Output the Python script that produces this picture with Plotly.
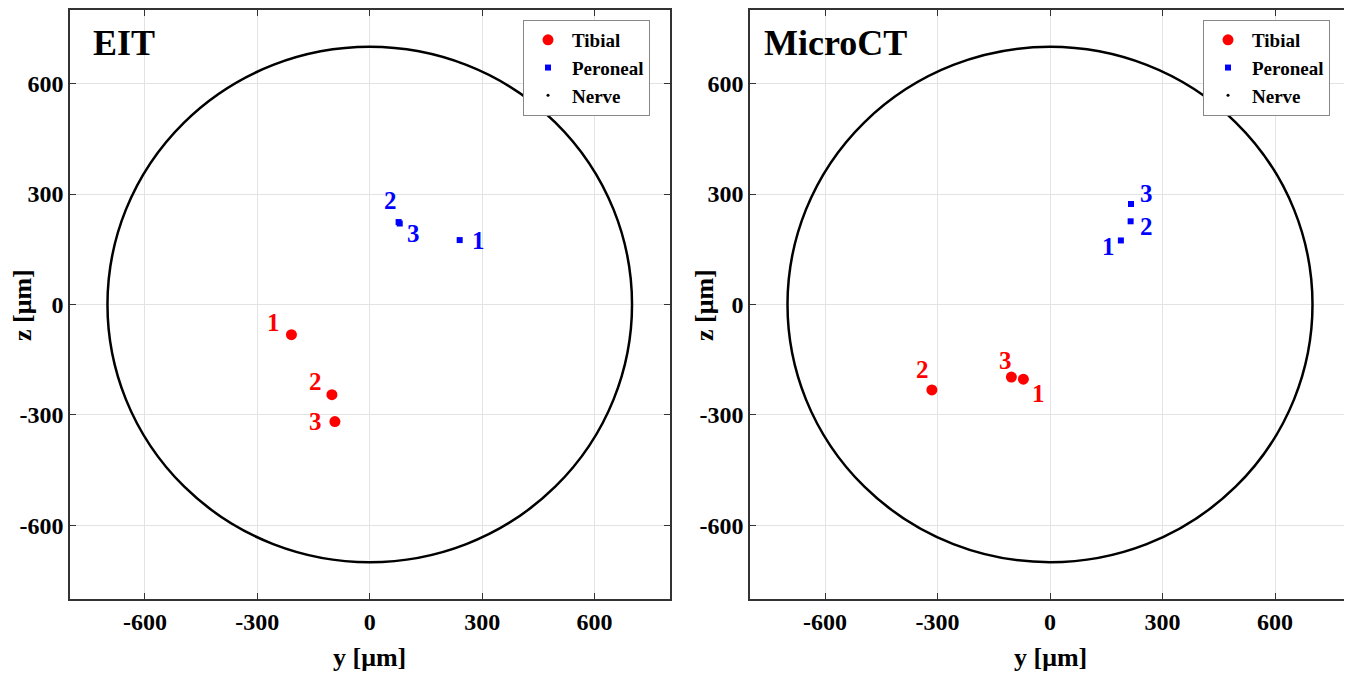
import plotly.graph_objects as go

# ---------------- data ----------------
NERVE_RADIUS = 700
AXIS_RANGE = [-800, 800]
TICK_VALUES = [-600, -300, 0, 300, 600]
TICK_LABELS = ["-600", "-300", "0", "300", "600"]
POINT_LABELS = ["1", "2", "3"]
PANEL_TITLES = ["EIT", "MicroCT"]
SERIES_NAMES = ["Tibial", "Peroneal", "Nerve"]
X_TITLE = "y [μm]"
Y_TITLE = "z [μm]"

EIT_TIBIAL_Y = [-209, -101, -93]
EIT_TIBIAL_Z = [-82, -245, -318]
EIT_PERONEAL_Y = [240, 77, 80]
EIT_PERONEAL_Z = [175, 224, 220]

CT_TIBIAL_Y = [-71, -315, -103]
CT_TIBIAL_Z = [-203, -232, -197]
CT_PERONEAL_Y = [189, 215, 216]
CT_PERONEAL_Z = [174, 226, 273]

# ---------------- styles ----------------
FONT = "Liberation Serif, Times New Roman, serif"
RED = "#ff0000"
BLUE = "#0000ff"
# label offsets in pixels (dx right, dy down)
EIT_TIB_OFF = [(-18, -12), (-16, -13), (-19, 0)]
EIT_PER_OFF = [(19, 0), (-8, -22), (14, 10)]
CT_TIB_OFF = [(15, 14), (-9, -20), (-6, -17)]
CT_PER_OFF = [(-12, 6), (16, 5), (15, -10)]

PAGE_MARGIN = 8  # default body margin of the html page
W, H = 1352 - PAGE_MARGIN, 673 - PAGE_MARGIN


def px(x):
    return (x - PAGE_MARGIN) / W


def py(y):
    return 1 - (y - PAGE_MARGIN) / H


X1 = [px(70), px(669.5)]
X2 = [px(750), px(1350)]
YD = [py(599), py(10)]

fig = go.Figure()

panels = [
    ("x", "y", "legend", EIT_TIBIAL_Y, EIT_TIBIAL_Z, EIT_PERONEAL_Y, EIT_PERONEAL_Z, EIT_TIB_OFF, EIT_PER_OFF),
    ("x2", "y2", "legend2", CT_TIBIAL_Y, CT_TIBIAL_Z, CT_PERONEAL_Y, CT_PERONEAL_Z, CT_TIB_OFF, CT_PER_OFF),
]

annotations = []
shapes = []
for xa, ya, lg, ty, tz, pey, pez, toff, poff in panels:
    fig.add_trace(go.Scatter(x=ty, y=tz, mode="markers", name=SERIES_NAMES[0],
                             marker=dict(symbol="circle", size=11, color=RED),
                             xaxis=xa, yaxis=ya, legend=lg, cliponaxis=False))
    fig.add_trace(go.Scatter(x=pey, y=pez, mode="markers", name=SERIES_NAMES[1],
                             marker=dict(symbol="square", size=6, color=BLUE),
                             xaxis=xa, yaxis=ya, legend=lg, cliponaxis=False))
    fig.add_trace(go.Scatter(x=[None], y=[None], mode="markers", name=SERIES_NAMES[2],
                             marker=dict(symbol="circle", size=3, color="black"),
                             xaxis=xa, yaxis=ya, legend=lg))
    shapes.append(dict(type="circle", xref=xa, yref=ya,
                       x0=-NERVE_RADIUS, x1=NERVE_RADIUS, y0=-NERVE_RADIUS, y1=NERVE_RADIUS,
                       line=dict(color="black", width=2.5), layer="above"))
    for xs, zs, offs, col in [(ty, tz, toff, RED), (pey, pez, poff, BLUE)]:
        for xv, zv, lab, (dx, dy) in zip(xs, zs, POINT_LABELS, offs):
            annotations.append(dict(x=xv, y=zv, xref=xa, yref=ya, text=lab, showarrow=False,
                                    xshift=dx, yshift=-dy,
                                    font=dict(family=FONT, size=25, color=col, weight="bold")))

title_font = dict(family=FONT, size=36, color="black", weight="bold")
annotations.append(dict(x=px(91), y=py(21), xref="paper", yref="paper", text=PANEL_TITLES[0],
                        showarrow=False, xanchor="left", yanchor="top", font=title_font))
annotations.append(dict(x=px(762), y=py(21), xref="paper", yref="paper", text=PANEL_TITLES[1],
                        showarrow=False, xanchor="left", yanchor="top", font=title_font))

axt_font = dict(family=FONT, size=26, color="black", weight="bold")
for cx, cy in [(369, 657), (1050, 657)]:
    annotations.append(dict(x=px(cx), y=py(cy), xref="paper", yref="paper", text=X_TITLE,
                            showarrow=False, xanchor="center", yanchor="middle", font=axt_font))
for cx, cy in [(22, 305), (704, 305)]:
    annotations.append(dict(x=px(cx), y=py(cy), xref="paper", yref="paper", text=Y_TITLE,
                            showarrow=False, xanchor="center", yanchor="middle", textangle=-90,
                            font=axt_font))

axis_common = dict(range=AXIS_RANGE, tickvals=TICK_VALUES, ticktext=TICK_LABELS,
                   showgrid=True, gridcolor="#e3e3e3", gridwidth=1, zeroline=False,
                   showline=True, linecolor="#333333", linewidth=1.5, mirror="ticks",
                   ticks="inside", ticklen=6, tickcolor="#333333", automargin=False,
                   tickfont=dict(family=FONT, size=24, color="black", weight="bold"),
                   fixedrange=True)

legend_common = dict(bgcolor="white", bordercolor="#888888", borderwidth=1,
                     font=dict(family=FONT, size=19, color="black", weight="bold"),
                     xanchor="left", yanchor="top", itemsizing="trace", tracegroupgap=0,
                     itemwidth=38)

fig.update_layout(
    width=W, height=H,
    margin=dict(l=0, r=0, t=0, b=0),
    paper_bgcolor="white", plot_bgcolor="white",
    xaxis=dict(domain=X1, anchor="y", **axis_common),
    yaxis=dict(domain=YD, anchor="x", **axis_common),
    xaxis2=dict(domain=X2, anchor="y2", **axis_common),
    yaxis2=dict(domain=YD, anchor="x2", **axis_common),
    legend=dict(x=px(523), y=py(20), **legend_common),
    legend2=dict(x=px(1203), y=py(20), **legend_common),
    shapes=shapes,
    annotations=annotations,
    showlegend=True,
)

fig.write_html("out.html")
